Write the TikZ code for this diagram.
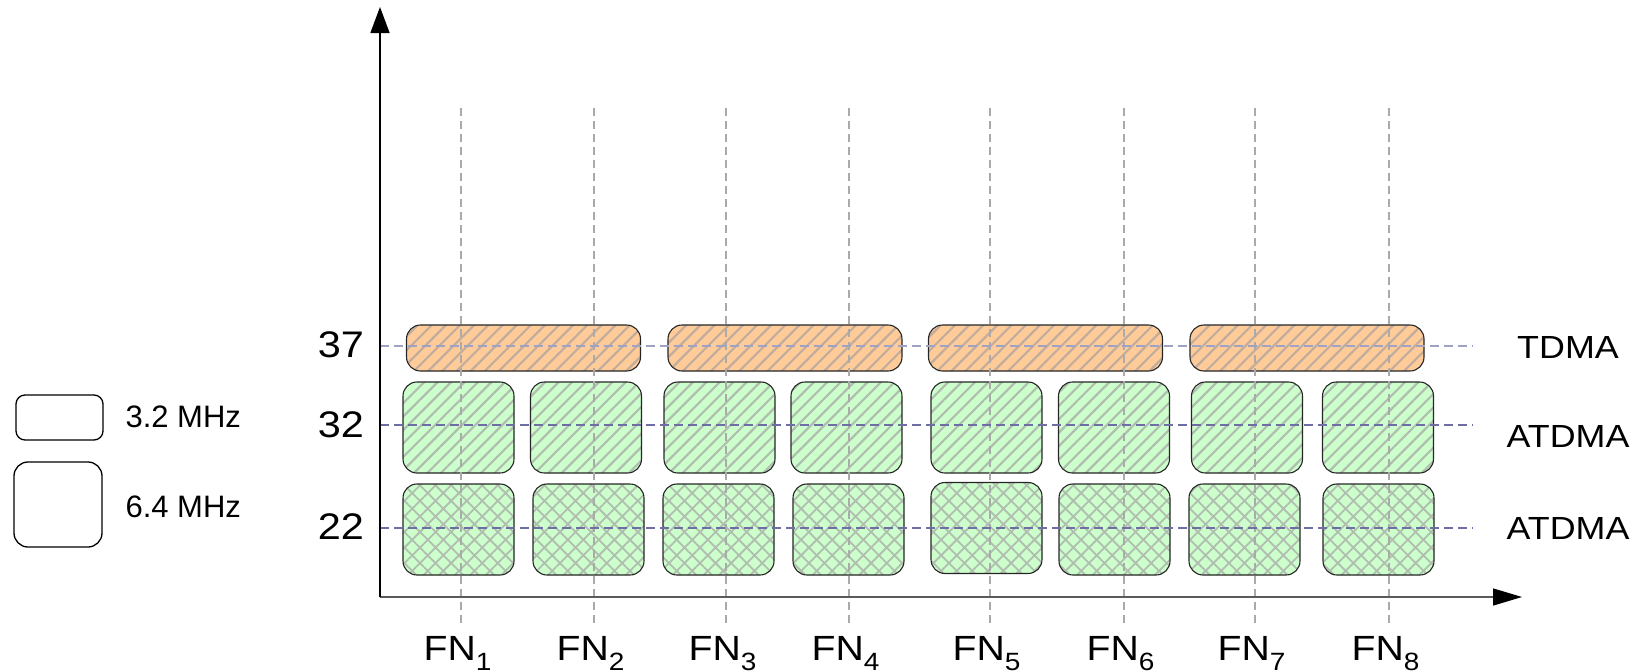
\documentclass[tikz,border=0pt]{standalone}
\usepackage{fontspec}
\setmainfont{Liberation Sans}
\newfontfamily\widesans[FakeStretch=1.12]{Liberation Sans}
\usetikzlibrary{patterns.meta,arrows.meta}

\definecolor{cellgreen}{HTML}{CCFFCC}
\definecolor{cellorange}{HTML}{FFCC99}
\definecolor{hatchongreen}{HTML}{B0BEB0}
\definecolor{hatchonorange}{HTML}{C2AC9C}
\definecolor{gridgray}{HTML}{AAAAAA}
\definecolor{levelblue}{HTML}{6E6EA4}
\definecolor{levellight}{HTML}{A0A2C4}
\definecolor{xaxisgray}{HTML}{5A5A5A}

\newcommand{\fnname}[1]{{\widesans FN}\raisebox{-10pt}{\widesans\fontsize{25}{25}\selectfont #1}}

\tikzset{
  cellbase/.style={draw=black!85, line width=1.1pt, inner sep=0pt, outer sep=0pt},
  tdmacell/.style={cellbase, rounded corners=14pt, minimum width=234pt, minimum height=46pt,
    preaction={fill=cellorange},
    pattern={Lines[angle=45,distance=10pt,line width=2.2pt]}, pattern color=hatchonorange},
  atdmacell/.style={cellbase, rounded corners=14pt, minimum width=111pt, minimum height=91pt,
    preaction={fill=cellgreen},
    pattern={Lines[angle=45,distance=9.5pt,line width=2.2pt]}, pattern color=hatchongreen},
  crosscell/.style={cellbase, rounded corners=14pt, minimum width=111pt, minimum height=91pt,
    preaction={fill=cellgreen},
    pattern={Hatch[angle=45,distance=11pt,line width=1.8pt]}, pattern color=hatchongreen},
  legendbox/.style={draw=black, line width=1.3pt, inner sep=0pt, outer sep=0pt},
  fnguide/.style={gridgray, line width=1.2pt, dash pattern=on 8pt off 5pt},
  levelguide/.style={levelblue, line width=1.2pt, dash pattern=on 9pt off 5pt},
  levelfaint/.style={levellight, line width=1.2pt, dash pattern=on 9pt off 5pt},
  levellabel/.style={anchor=base, font=\widesans\fontsize{37}{40}\selectfont},
  schemelabel/.style={anchor=base, font=\widesans\fontsize{32}{36}\selectfont},
  fnlabel/.style={anchor=base, inner sep=0pt, font=\fontsize{35}{38}\selectfont},
  legendtext/.style={anchor=west, font=\fontsize{31}{34}\selectfont},
}

\begin{document}
\begin{tikzpicture}[x=1pt,y=-1pt]
\useasboundingbox (0,0) rectangle (1642,672);

% upstream channels: TDMA at 37, ATDMA at 32 and 22
\foreach \i/\cx in {1/523.5,2/785,3/1045.5,4/1307}
  \node[tdmacell] (t\i) at (\cx,348) {};
\foreach \i/\cx in {1/458.5,2/586,3/719.5,4/846.5,5/986.5,6/1114,7/1247,8/1378}
  \node[atdmacell] (a\i) at (\cx,427.5) {};
\foreach \i/\cx/\cy in {1/458.5/529.5,2/588.5/529.5,3/718.5/529.5,4/848.5/529.5,
                        5/986.5/528,6/1114.5/529.5,7/1244.5/529.5,8/1378.5/529.5}
  \node[crosscell] (c\i) at (\cx,\cy) {};

% fiber node guides and their labels
\foreach \i/\gx in {1/461,2/594,3/726,4/849,5/990,6/1124,7/1255,8/1389}{
  \coordinate (fntop\i) at (\gx,108);
  \coordinate (fnbot\i) at (\gx,623);
  \draw[fnguide] (fntop\i) -- (fnbot\i);
  \node[fnlabel] (fn\i) at (\gx-3.5,660) {\fnname{\i}};
}

% frequency levels
\coordinate (l37a) at (380,346);  \coordinate (l37b) at (1473,346);
\coordinate (l32a) at (380,425);  \coordinate (l32b) at (1473,425);
\coordinate (l22a) at (380,528);  \coordinate (l22b) at (1473,528);
\draw[levelfaint] (l37a) -- (l37b);
\draw[levelguide] (l32a) -- (l32b);
\draw[levelguide] (l22a) -- (l22b);

\node[levellabel] (v37) at (341,357) {37};
\node[levellabel] (v32) at (341,437) {32};
\node[levellabel] (v22) at (341,539) {22};

\node[schemelabel] (s37) at (1568,358) {TDMA};
\node[schemelabel] (s32) at (1568,447) {ATDMA};
\node[schemelabel] (s22) at (1568,539) {ATDMA};

% axes
\coordinate (origin) at (380,597);
\coordinate (ytip) at (380,7);
\coordinate (xtip) at (1522,597);
\draw[xaxisgray, line width=1.4pt, -{Triangle[width=17pt,length=29pt,color=black]}] (origin) -- (xtip);
\draw[black, line width=1.4pt, -{Triangle[width=19pt,length=26pt]}] (origin) -- (ytip);

% legend
\node[legendbox, rounded corners=9pt, minimum width=87pt, minimum height=45pt] (leg1) at (59.5,417.5) {};
\node[legendbox, rounded corners=14pt, minimum width=88pt, minimum height=85pt] (leg2) at (58,504.5) {};
\node[legendtext] (legt1) at (122,417) {3.2 MHz};
\node[legendtext] (legt2) at (122,507) {6.4 MHz};
\end{tikzpicture}
\end{document}
